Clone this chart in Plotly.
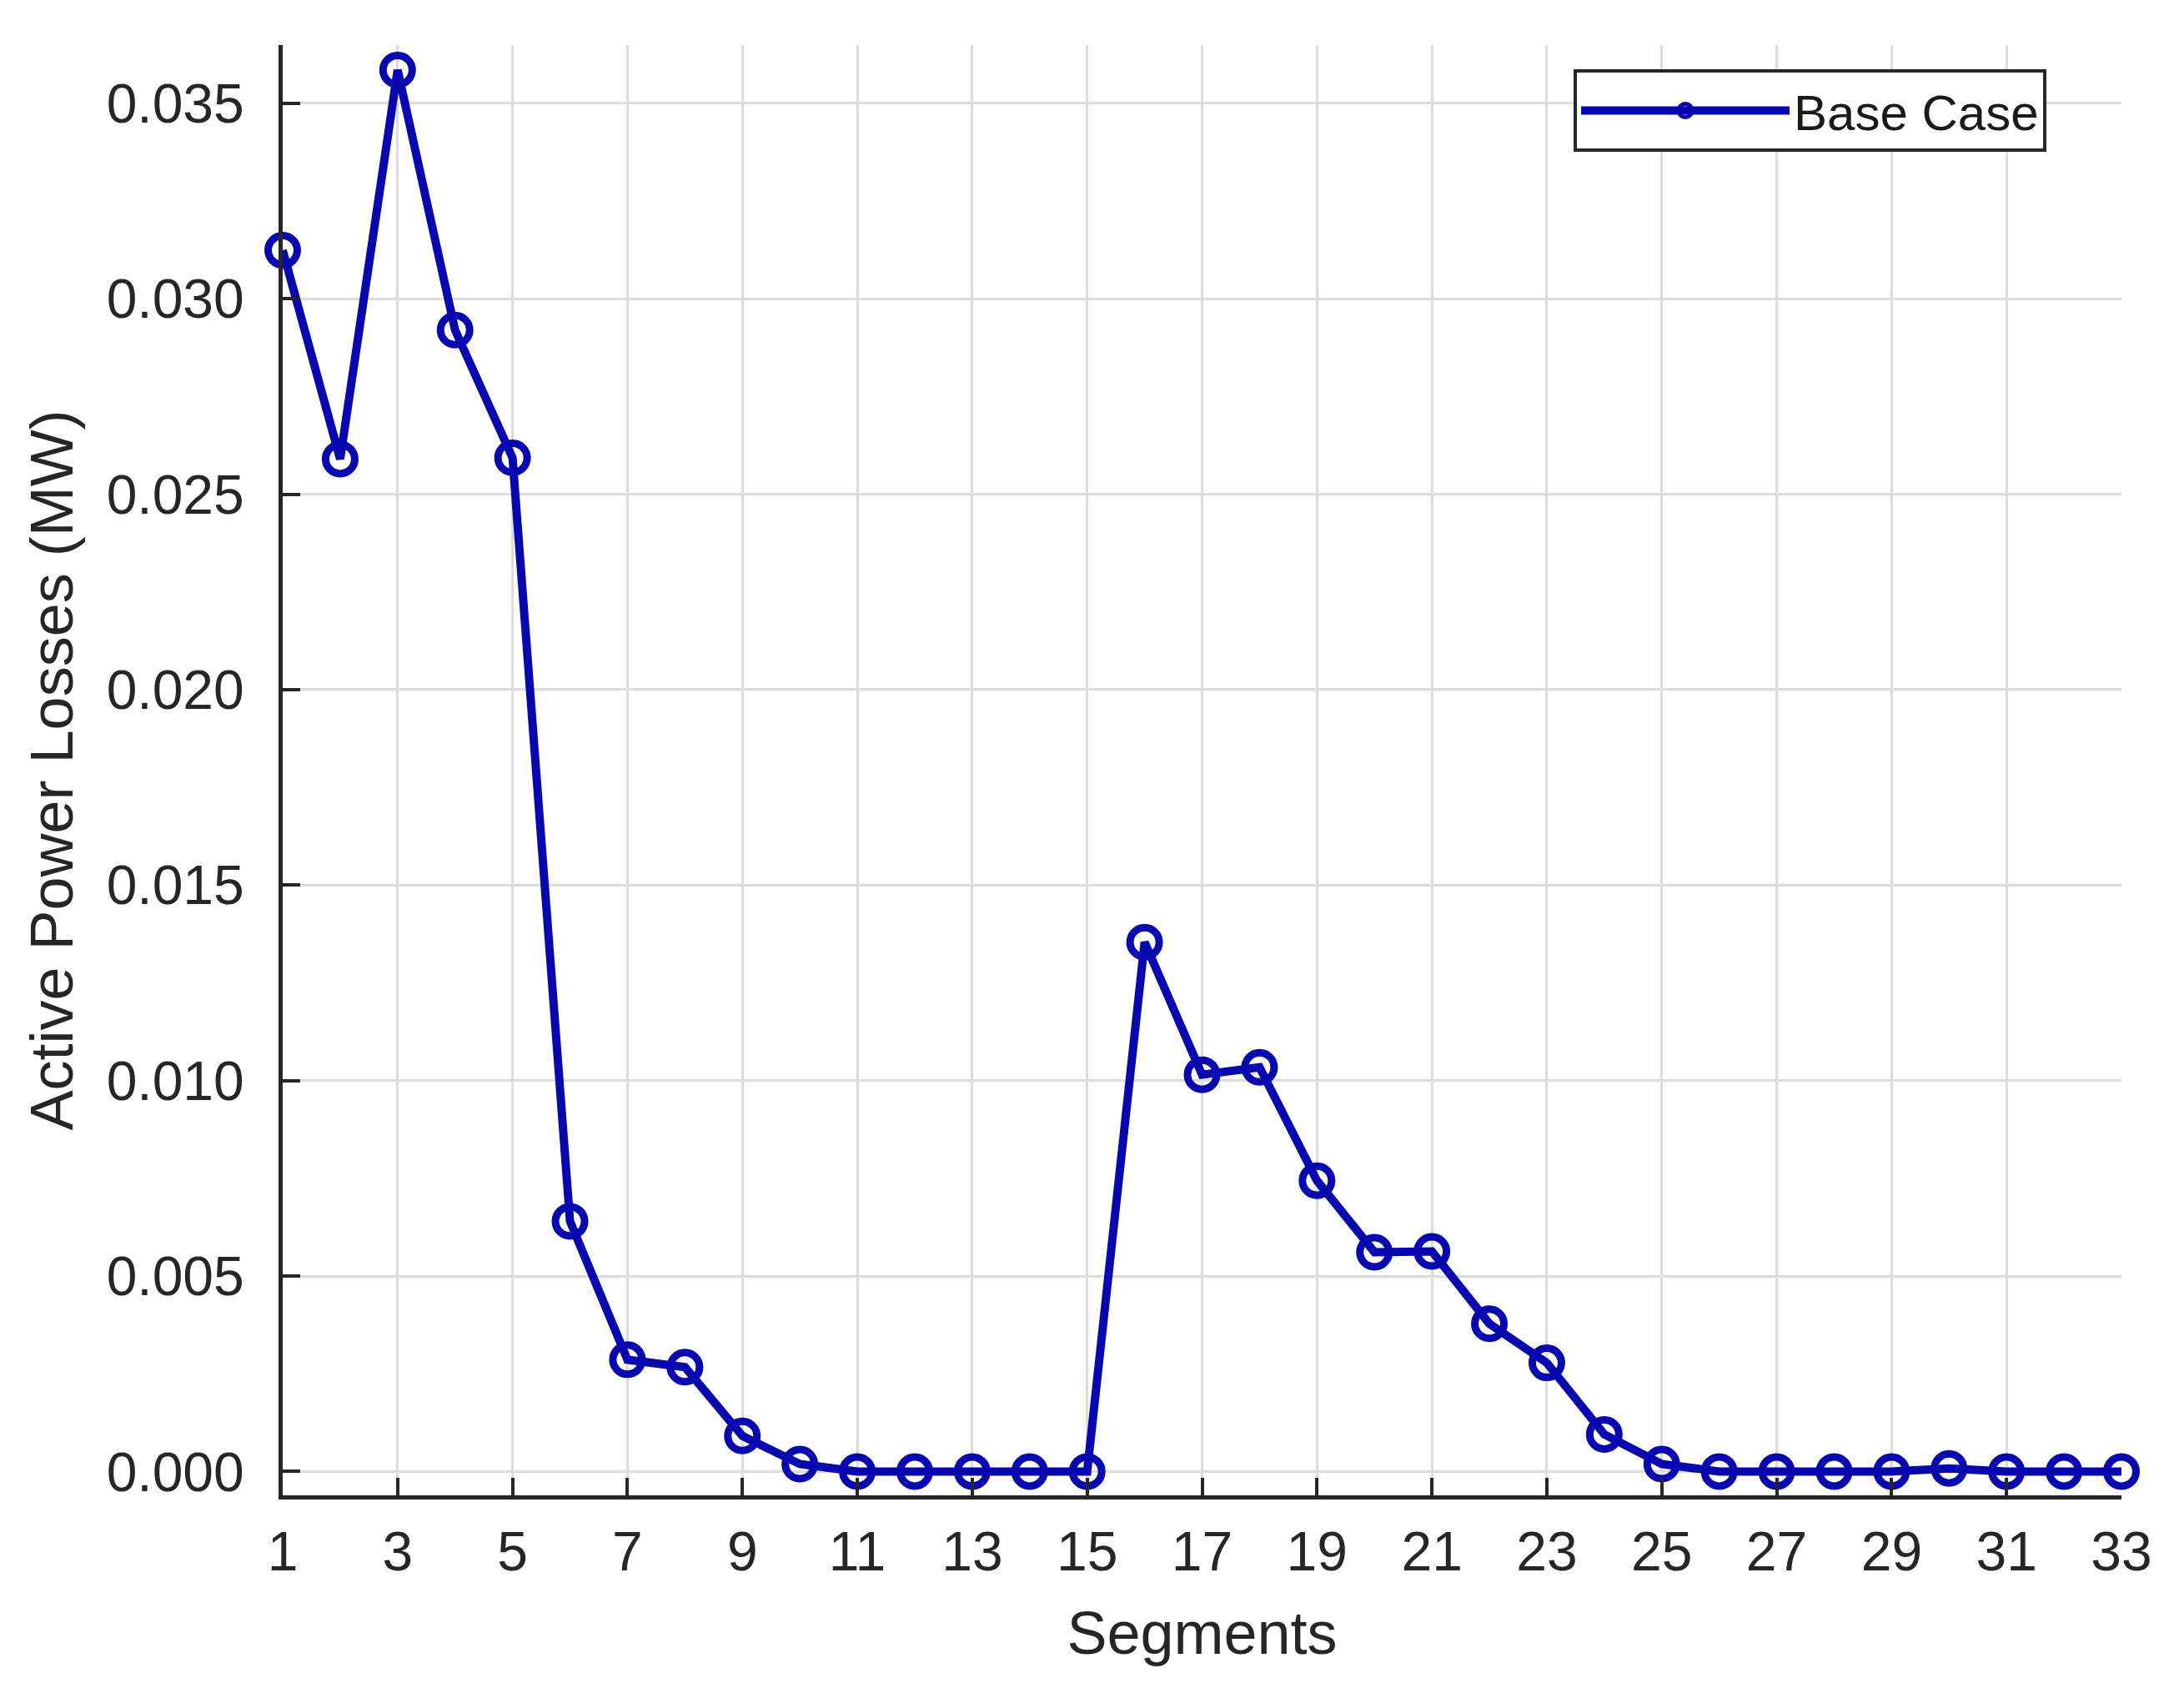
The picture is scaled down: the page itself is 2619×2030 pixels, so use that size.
import plotly.graph_objects as go

# data
segments = list(range(1, 34))
base_case_losses = [
    0.03124, 0.02590, 0.03585, 0.02920, 0.02593, 0.00640, 0.00286, 0.00267,
    0.00091, 0.00019, 0.0, 0.0, 0.0, 0.0, 0.0, 0.01354, 0.01015, 0.01034,
    0.00744, 0.00561, 0.00563, 0.00378, 0.00278, 0.00095, 0.00019, 0.0,
    0.0, 0.0, 0.0, 0.00008, 0.0, 0.0, 0.0,
]
x_ticks = list(range(1, 34, 2))
y_ticks = [0.000, 0.005, 0.010, 0.015, 0.020, 0.025, 0.030, 0.035]

LINE_BLUE = "#0808b0"
FONT = "Liberation Sans, Arial, sans-serif"

fig = go.Figure()
fig.add_trace(
    go.Scatter(
        x=segments,
        y=base_case_losses,
        mode="lines+markers",
        name="Base Case",
        line=dict(color=LINE_BLUE, width=10),
        marker=dict(symbol="circle-open", size=35, color=LINE_BLUE, line=dict(width=9, color=LINE_BLUE)),
        cliponaxis=False,
    )
)

fig.update_layout(
    width=2619,
    height=2030,
    paper_bgcolor="white",
    plot_bgcolor="white",
    margin=dict(l=331, r=83, t=46, b=245),
    font=dict(family=FONT, size=66, color="#262626"),
    showlegend=True,
    legend=dict(
        x=0.9592, y=0.9833,
        xanchor="right", yanchor="top",
        bgcolor="white",
        bordercolor="#262626",
        borderwidth=4,
        font=dict(size=60, color="#1a1a1a"),
        itemwidth=250,
    ),
)

fig.update_xaxes(
    range=[1, 33],
    tickvals=x_ticks,
    ticktext=[str(v) for v in x_ticks],
    showgrid=True, gridcolor="#dcdcdc", gridwidth=3,
    showline=True, linecolor="#262626", linewidth=5,
    ticks="inside", ticklen=21, tickwidth=4, tickcolor="#262626",
    ticklabelstandoff=6,
    zeroline=False,
    title=dict(text="Segments", font=dict(size=72, color="#262626"), standoff=38),
)
fig.update_yaxes(
    range=[-0.00061, 0.03649],
    tickvals=y_ticks,
    ticktext=[f"{v:.3f}" for v in y_ticks],
    showgrid=True, gridcolor="#dcdcdc", gridwidth=3,
    showline=True, linecolor="#262626", linewidth=5,
    ticks="inside", ticklen=21, tickwidth=4, tickcolor="#262626",
    ticklabelstandoff=28,
    zeroline=False,
    title=dict(text="Active Power Losses (MW)", font=dict(size=72, color="#262626"), standoff=18),
)

fig.write_html("out.html")
